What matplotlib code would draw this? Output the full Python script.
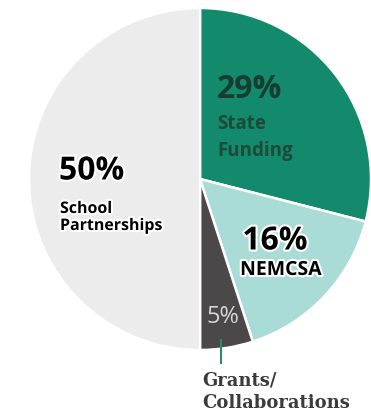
import numpy as np
import matplotlib
matplotlib.use("Agg")
import matplotlib.pyplot as plt
import matplotlib.patheffects as pe

# funding shares, clockwise from 12 o'clock
sources = ["State\nFunding", "NEMCSA", "Grants/\nCollaborations", "School\nPartnerships"]
shares = [29, 16, 5, 50]
colors = ["#138a6b", "#a9dcd6", "#4b4849", "#ececec"]

W, H = 371, 415
fig = plt.figure(figsize=(W / 100, H / 100), dpi=100)
ax = fig.add_axes([0, 0, 1, 1])

cx, cy, r = 200, H - 179, 171
wedges, _ = ax.pie(shares, colors=colors, startangle=90, counterclock=False,
                   center=(cx, cy), radius=r,
                   wedgeprops=dict(edgecolor="white", linewidth=1.8))
ax.set_xlim(0, W)
ax.set_ylim(0, H)
ax.set_aspect("equal")
ax.axis("off")

sans = ["Open Sans", "DejaVu Sans"]
serif = ["DejaVu Serif"]
halo = [pe.withStroke(linewidth=3, foreground="white")]


def label(x, y, s, size, color="black", ha="left", bold=True, fx=None, family=sans):
    ax.text(x, H - y, s, fontsize=size, fontweight="bold" if bold else "normal",
            family=family, color=color, va="center", ha=ha, path_effects=fx)


# State Funding (dark text on green)
label(217, 89, f"{shares[0]}%", 23, color="#173d31")
label(217, 124, "State", 13.5, color="#1c4a3b")
label(217, 151, "Funding", 13.5, color="#1c4a3b")

# School Partnerships
label(59, 171, f"{shares[3]}%", 23, fx=halo)
label(60, 209, "School", 11.5, fx=halo)
label(60, 226, "Partnerships", 11.5, fx=halo)

# NEMCSA
label(275, 241, f"{shares[1]}%", 23, ha="center", fx=halo)
label(281, 270, "NEMCSA", 14, ha="center", fx=halo)

# Grants slice: value inside, name below with a leader line
label(223, 317, f"{shares[2]}%", 17, color="#d6d6d6", ha="center", bold=False)
w = wedges[2]
mid = np.deg2rad((w.theta1 + w.theta2) / 2)
lx = cx + r * np.cos(mid) - 6
ax.plot([lx, lx], [H - 340, H - 363], color="#2b8a6c", lw=1.5)
label(202, 380, "Grants/", 13, color="#3b3b3b", family=serif)
label(202, 403, "Collaborations", 13, color="#3b3b3b", family=serif)

fig.savefig("out.png", dpi=100, facecolor="white")
